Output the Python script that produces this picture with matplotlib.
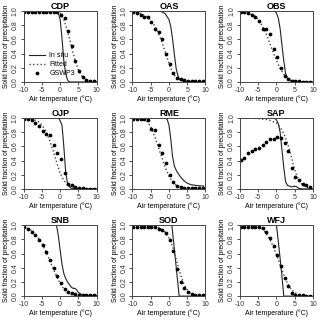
import numpy as np
import matplotlib.pyplot as plt

plt.rcParams['font.family'] = ['Liberation Sans', 'DejaVu Sans']

# --- data ---
stations = ['CDP', 'OAS', 'OBS', 'OJP', 'RME', 'SAP', 'SNB', 'SOD', 'WFJ']

# GSWP3 points: one per 1 degC bin
gswp3_t = [-9.8, -8.8, -7.8, -6.8, -5.8, -4.8, -3.8, -2.8, -1.8, -0.8,
           0.2, 1.2, 2.2, 3.2, 4.2, 5.2, 6.2, 7.2, 8.2, 9.2]
gswp3 = {
    'CDP': [0.99, 0.99, 0.99, 0.99, 0.99, 0.99, 0.99, 0.99, 0.99, 0.99,
            0.95, 0.90, 0.72, 0.50, 0.30, 0.16, 0.07, 0.03, 0.02, 0.01],
    'OAS': [0.98, 0.97, 0.95, 0.92, 0.91, 0.85, 0.75, 0.71, 0.60, 0.40,
            0.26, 0.12, 0.06, 0.04, 0.03, 0.02, 0.01, 0.01, 0.01, 0.01],
    'OBS': [0.99, 0.98, 0.97, 0.94, 0.91, 0.86, 0.75, 0.74, 0.68, 0.46,
            0.35, 0.20, 0.08, 0.04, 0.02, 0.015, 0.01, 0.005, 0.005, 0.005],
    'OJP': [0.99, 0.98, 0.97, 0.93, 0.88, 0.82, 0.78, 0.76, 0.62, 0.50,
            0.42, 0.22, 0.07, 0.05, 0.02, 0.015, 0.01, 0.005, 0.005, 0.005],
    'RME': [0.98, 0.98, 0.98, 0.98, 0.97, 0.84, 0.83, 0.62, 0.50, 0.37,
            0.20, 0.10, 0.04, 0.02, 0.01, 0.01, 0.01, 0.01, 0.01, 0.01],
    'SAP': [0.41, 0.44, 0.50, 0.53, 0.56, 0.58, 0.62, 0.66, 0.70, 0.71,
            0.73, 0.72, 0.64, 0.53, 0.30, 0.17, 0.12, 0.07, 0.05, 0.02],
    'SNB': [0.97, 0.95, 0.91, 0.86, 0.79, 0.72, 0.62, 0.51, 0.40, 0.29,
            0.19, 0.10, 0.06, 0.04, 0.03, 0.02, 0.02, 0.01, 0.01, 0.01],
    'SOD': [0.98, 0.98, 0.98, 0.97, 0.97, 0.97, 0.97, 0.95, 0.93, 0.89,
            0.79, 0.64, 0.38, 0.20, 0.12, 0.06, 0.03, 0.02, 0.01, 0.01],
    'WFJ': [0.98, 0.98, 0.98, 0.98, 0.98, 0.98, 0.96, 0.91, 0.82, 0.71,
            0.58, 0.42, 0.26, 0.14, 0.04, 0.02, 0.01, 0.01, 0.005, 0.005],
}

# in situ curves (solid)
insitu_t = {
    'CDP': [-10, -1, -0.5, 0, 0.5, 1, 1.5, 2, 2.5, 10],
    'OAS': [-10, -3, -2, -1, 0, 0.5, 1, 1.5, 2, 2.5, 3, 4, 10],
    'OBS': [-10, -0.5, 0, 0.5, 1, 1.5, 2, 2.5, 3, 4, 10],
    'OJP': [-10, -0.5, 0, 0.5, 1, 1.5, 2, 2.5, 3, 4, 10],
    'RME': [-10, -1, -0.5, 0, 0.5, 1, 1.5, 2, 3, 4, 5, 6, 8, 9.5],
    'SAP': [-10, -0.5, 0, 0.5, 1, 1.5, 2, 2.5, 3, 4, 4.5, 5, 5.5, 6, 7, 10],
    'SNB': [-1, -0.5, 0, 0.5, 1, 1.5, 2, 3, 3.5, 4, 4.5, 5, 6, 8, 10],
    'SOD': [-10, 0.8, 2.8, 10],
    'WFJ': [-10, 0, 0.5, 1, 1.5, 2, 10],
}
insitu = {
    'CDP': [1, 1, 0.97, 0.88, 0.62, 0.30, 0.12, 0.03, 0, 0],
    'OAS': [1, 1, 0.99, 0.96, 0.88, 0.78, 0.60, 0.38, 0.18, 0.08, 0.03, 0.01, 0],
    'OBS': [1, 1, 0.97, 0.90, 0.75, 0.52, 0.30, 0.12, 0.05, 0.01, 0],
    'OJP': [1, 1, 0.96, 0.90, 0.60, 0.25, 0.08, 0.03, 0.01, 0, 0],
    'RME': [1, 1, 0.98, 0.90, 0.70, 0.45, 0.32, 0.26, 0.18, 0.12, 0.08, 0.06, 0.045, 0.04],
    'SAP': [1, 1, 0.97, 0.92, 0.80, 0.55, 0.30, 0.10, 0.05, 0.03, 0.03, 0.04, 0.03, 0.01, 0, 0],
    'SNB': [1.0, 0.85, 0.65, 0.45, 0.32, 0.25, 0.20, 0.13, 0.11, 0.11, 0.09, 0.05, 0.02, 0.01, 0.01],
    'SOD': [1, 1, 0, 0],
    'WFJ': [1, 1, 0.77, 0.53, 0.28, 0, 0],
}

# fitted curves (dotted)
fit_t = [-10, -8, -6, -5, -4, -3, -2, -1, 0, 1, 2, 3, 4, 5, 6, 7, 8, 9, 10]
fitted = {
    'CDP': [1, 1, 1, 1, 1, 1, 1, 0.995, 0.97, 0.88, 0.72, 0.52, 0.32, 0.17, 0.08, 0.035, 0.015, 0.005, 0],
    'OAS': [1, 0.97, 0.92, 0.87, 0.80, 0.70, 0.58, 0.42, 0.26, 0.13, 0.06, 0.03, 0.01, 0.005, 0, 0, 0, 0, 0],
    'OBS': [1, 0.98, 0.93, 0.88, 0.80, 0.70, 0.57, 0.43, 0.30, 0.19, 0.11, 0.06, 0.03, 0.015, 0.007, 0, 0, 0, 0],
    'OJP': [1, 0.99, 0.95, 0.90, 0.82, 0.70, 0.55, 0.38, 0.22, 0.12, 0.06, 0.03, 0.01, 0.005, 0, 0, 0, 0, 0],
    'RME': [1, 0.995, 0.95, 0.88, 0.75, 0.60, 0.45, 0.30, 0.18, 0.10, 0.05, 0.02, 0.01, 0.005, 0, 0, 0, 0, 0],
    'SAP': [1, 1, 0.995, 0.99, 0.985, 0.98, 0.97, 0.95, 0.93, 0.87, 0.78, 0.65, 0.47, 0.27, 0.13, 0.06, 0.03, 0.01, 0],
    'SNB': [0.98, 0.93, 0.82, 0.74, 0.64, 0.52, 0.40, 0.28, 0.18, 0.10, 0.05, 0.02, 0.01, 0.005, 0, 0, 0, 0, 0],
    'SOD': [1, 1, 0.995, 0.99, 0.98, 0.97, 0.94, 0.90, 0.82, 0.70, 0.52, 0.33, 0.18, 0.09, 0.04, 0.02, 0.01, 0.005, 0],
    'WFJ': [1, 1, 0.99, 0.98, 0.95, 0.90, 0.82, 0.71, 0.58, 0.44, 0.30, 0.18, 0.10, 0.05, 0.02, 0.01, 0.005, 0, 0],
}

xticks = [-10, -5, 0, 5, 10]
yticks = [0.0, 0.2, 0.4, 0.6, 0.8, 1.0]

# --- figure ---
fig = plt.figure(figsize=(3.2, 3.24), dpi=100)
lefts = [0.074, 0.414, 0.75]
bottoms = [0.747, 0.417, 0.086]
w, h = 0.228, 0.219
edge = '#444444'

for i, st in enumerate(stations):
    r, c = divmod(i, 3)
    ax = fig.add_axes([lefts[c], bottoms[r], w, h])
    ax.plot(insitu_t[st], insitu[st], '-', color='#222222', lw=0.8, label='In situ')
    ax.plot(fit_t, fitted[st], ':', color='#444444', lw=1.0, label='Fitted')
    ax.plot(gswp3_t, gswp3[st], 'o', color='black', ms=2.7, mew=0, label='GSWP3')
    ax.set_xlim(-10, 10)
    ax.set_ylim(0, 1)
    ax.set_xticks(xticks)
    ax.set_yticks(yticks)
    ax.set_xticklabels([str(t) for t in xticks], fontsize=5)
    ax.set_yticklabels([f'{t:.1f}' for t in yticks], fontsize=5, rotation=90, va='center')
    ax.tick_params(length=2, width=0.6, pad=1.5, colors='#333333')
    for s in ax.spines.values():
        s.set_color(edge)
        s.set_linewidth(0.7)
    ax.set_title(st, fontsize=6.5, fontweight='bold', pad=0.5)
    ax.set_xlabel('Air temperature (\u00b0C)', fontsize=5, labelpad=1)
    ax.set_ylabel('Solid fraction of precipitation', fontsize=4.8, labelpad=1.5)
    if st == 'CDP':
        ax.legend(loc='lower left', bbox_to_anchor=(0.0, 0.0), frameon=False,
                  fontsize=5, handlelength=2.4, handletextpad=0.6,
                  labelspacing=0.3, borderaxespad=0.3)

fig.savefig('out.png', dpi=100)
